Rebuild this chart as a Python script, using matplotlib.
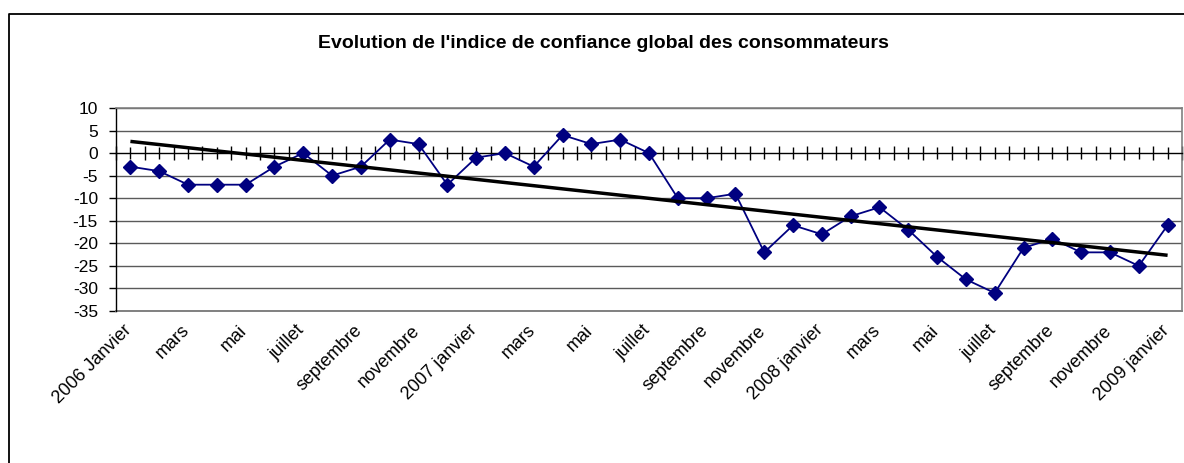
import numpy as np
import matplotlib
matplotlib.use("Agg")
import matplotlib.pyplot as plt
from matplotlib.lines import Line2D
from matplotlib.transforms import ScaledTranslation, blended_transform_factory

plt.rcParams['font.family'] = ['Liberation Sans', 'DejaVu Sans']

# ---- data ----
months = ["2006 Janvier", "février", "mars", "avril", "mai", "juin", "juillet", "août",
          "septembre", "octobre", "novembre", "décembre",
          "2007 janvier", "février", "mars", "avril", "mai", "juin", "juillet", "août",
          "septembre", "octobre", "novembre", "décembre",
          "2008 janvier", "février", "mars", "avril", "mai", "juin", "juillet", "août",
          "septembre", "octobre", "novembre", "décembre",
          "2009 janvier"]
values = [-3, -4, -7, -7, -7, -3, 0, -5, -3, 3, 2, -7,
          -1, 0, -3, 4, 2, 3, 0, -10, -10, -9, -22, -16,
          -18, -14, -12, -17, -23, -28, -31, -21, -19, -22, -22, -25,
          -16]
yticks = [10, 5, 0, -5, -10, -15, -20, -25, -30, -35]
title = "Evolution de l'indice de confiance global des consommateurs"

W, H, DPI = 1184, 463, 100
fig = plt.figure(figsize=(W / DPI, H / DPI), dpi=DPI)
fig.patch.set_facecolor('white')

# plot area in pixels: left 116, right 1182, top 108, bottom 311
L, R, T, B = 116, 1182, 108, 311
ax = fig.add_axes([L / W, 1 - B / H, (R - L) / W, (B - T) / H])

x = np.arange(len(values))
ax.set_xlim(-0.5, len(values) - 0.5)
ax.set_ylim(-35, 10)

# gridlines
for yv in yticks:
    if yv != 0:
        ax.axhline(yv, color='#5a5a5a', lw=1.0, zorder=1)

# series
ax.plot(x, values, color='#000080', lw=1.3, marker='D', markersize=6.8,
        markerfacecolor='#000080', markeredgecolor='#000080', zorder=4)

# linear trend line
coef = np.polyfit(x, values, 1)
ax.plot(x, np.polyval(coef, x), color='black', lw=2.5, zorder=5, solid_capstyle='butt')

# spines
for s in ['top', 'right']:
    ax.spines[s].set_color('#808080')
    ax.spines[s].set_linewidth(1.2)
ax.spines['left'].set_color('black')
ax.spines['left'].set_linewidth(1.0)
ax.spines['bottom'].set_position(('data', 0))
ax.spines['bottom'].set_color('black')
ax.spines['bottom'].set_linewidth(1.0)
ax.axhline(-35, color='#808080', lw=1.4, zorder=2, clip_on=False)

# x ticks crossing the zero axis
ax.set_xticks(np.arange(len(values) + 1) - 0.5)
ax.set_xticks(x, minor=True)
ax.tick_params(axis='x', which='major', direction='inout', length=10, width=1.0,
               color='black', labelbottom=False)
ax.tick_params(axis='x', which='minor', direction='inout', length=8, width=1.0,
               color='black', labelbottom=False)

# y ticks
ax.set_yticks(yticks)
ax.set_yticklabels([str(v) for v in yticks])
ax.tick_params(axis='y', direction='out', length=5, width=1.0, pad=8,
               labelsize=12.5, color='black')

# category labels (every second month), placed below the plot area
trans = blended_transform_factory(ax.transData, ax.transAxes) + \
    ScaledTranslation(2 / DPI, -20 / DPI, fig.dpi_scale_trans)
for i in range(0, len(months), 2):
    ax.text(x[i], 0, months[i], transform=trans, rotation=45,
            rotation_mode='anchor', ha='right', va='baseline', fontsize=13,
            clip_on=False)

# title
fig.text(603 / W, 1 - 44 / H, title, ha='center', va='center',
         fontsize=14, fontweight='bold')

# outer chart frame (left and top visible)
fig.add_artist(Line2D([8.5 / W, 8.5 / W, 1.01], [-0.01, 1 - 14 / H, 1 - 14 / H],
                      transform=fig.transFigure, color='black', lw=1.3))

fig.savefig('out.png', dpi=DPI)
